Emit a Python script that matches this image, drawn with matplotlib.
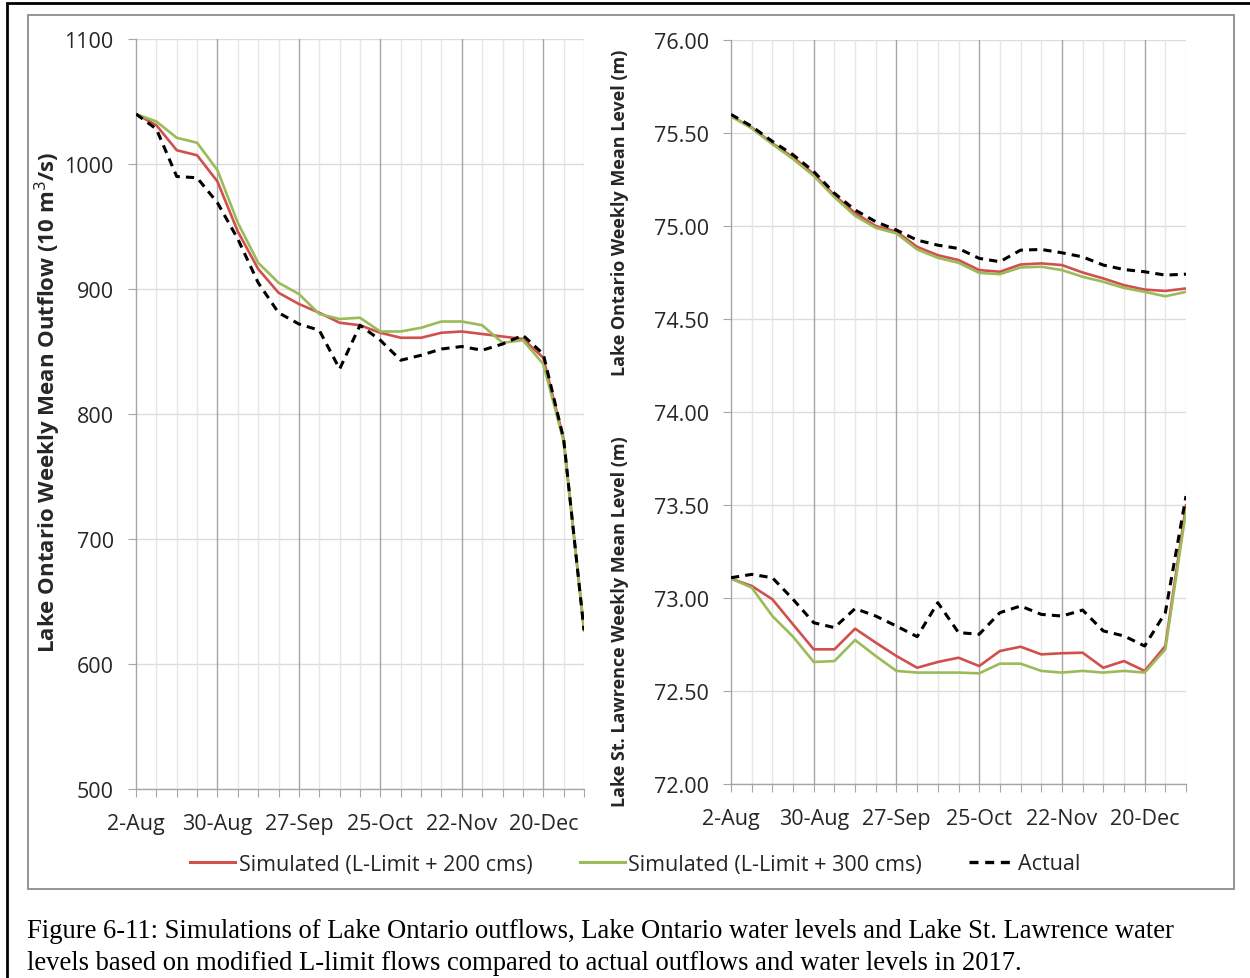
import matplotlib
matplotlib.use('Agg')
import matplotlib.pyplot as plt
import matplotlib as mpl
from matplotlib.lines import Line2D
from matplotlib.patches import Rectangle

# weekly dates, 2 Aug 2017 -> 3 Jan 2018
weeks = ['2-Aug', '9-Aug', '16-Aug', '23-Aug', '30-Aug', '6-Sep', '13-Sep', '20-Sep',
         '27-Sep', '4-Oct', '11-Oct', '18-Oct', '25-Oct', '1-Nov', '8-Nov', '15-Nov',
         '22-Nov', '29-Nov', '6-Dec', '13-Dec', '20-Dec', '27-Dec', '3-Jan']

# Lake Ontario outflow (10 m3/s)
flow_200 = [1040, 1031, 1011, 1007, 986, 946, 916, 897, 888, 881, 873, 871, 865,
            861, 861, 865, 866, 864, 862, 860, 845, 780, 627]
flow_300 = [1040, 1034, 1021, 1017, 995, 953, 921, 905, 896, 880, 876, 877, 866,
            866, 869, 874, 874, 871, 857, 859, 840, 778, 628]
flow_act = [1040, 1028, 990, 989, 969, 940, 905, 881, 872, 867, 836, 871, 859,
            843, 847, 852, 854, 851, 856, 863, 848, 780, 627]

# Lake Ontario level (m)
lo_200 = [75.59, 75.53, 75.445, 75.37, 75.28, 75.165, 75.07, 75.0, 74.97, 74.888,
          74.843, 74.817, 74.763, 74.754, 74.793, 74.799, 74.79, 74.75, 74.718,
          74.682, 74.658, 74.651, 74.664]
lo_300 = [75.59, 75.525, 75.44, 75.36, 75.27, 75.155, 75.055, 74.99, 74.96, 74.874,
          74.829, 74.802, 74.748, 74.741, 74.777, 74.781, 74.763, 74.727, 74.70,
          74.667, 74.646, 74.622, 74.646]
lo_act = [75.60, 75.536, 75.455, 75.383, 75.293, 75.176, 75.086, 75.023, 74.978,
          74.924, 74.897, 74.879, 74.826, 74.808, 74.87, 74.874, 74.856, 74.834,
          74.79, 74.766, 74.754, 74.736, 74.741]

# Lake St. Lawrence level (m)
lsl_200 = [73.104, 73.065, 72.993, 72.858, 72.724, 72.724, 72.835, 72.76, 72.688,
           72.625, 72.656, 72.679, 72.634, 72.715, 72.738, 72.697, 72.703, 72.706,
           72.625, 72.661, 72.608, 72.742, 73.498]
lsl_300 = [73.104, 73.056, 72.903, 72.792, 72.656, 72.661, 72.774, 72.688, 72.608,
           72.599, 72.599, 72.599, 72.595, 72.647, 72.647, 72.608, 72.599, 72.608,
           72.599, 72.608, 72.599, 72.724, 73.468]
lsl_act = [73.109, 73.127, 73.109, 72.993, 72.867, 72.841, 72.943, 72.903, 72.849,
           72.792, 72.975, 72.814, 72.805, 72.921, 72.957, 72.912, 72.903, 72.935,
           72.823, 72.796, 72.742, 72.921, 73.548]

RED = '#D0504E'
GREEN = '#9BBB59'
TXT = '#262626'

mpl.rc('font', family=['Open Sans', 'DejaVu Sans'], size=15.5)


def style_axis(ax, yticks, fmt):
    x = list(range(len(weeks)))
    ax.set_xlim(0, len(weeks) - 1)
    ax.set_xticks(x)
    ax.set_xticklabels([w if i % 4 == 0 else '' for i, w in enumerate(weeks)])
    ax.set_yticks(yticks)
    ax.set_yticklabels([fmt % v for v in yticks])
    ax.set_ylim(yticks[0], yticks[-1])
    for v in yticks:
        ax.axhline(v, color='#DCDCDC', lw=1.0, zorder=0)
    for i in x[1:]:
        c = '#A6A6A6' if i % 4 == 0 else '#E6E6E6'
        ax.axvline(i, color=c, lw=1.0, zorder=0)
    for s in ['top', 'right']:
        ax.spines[s].set_visible(False)
    for s in ['left', 'bottom']:
        ax.spines[s].set_color('#A6A6A6')
        ax.spines[s].set_linewidth(1.0)
    ax.tick_params(axis='both', length=6, color='#A6A6A6', labelcolor=TXT, labelsize=15.5)
    ax.tick_params(axis='y', pad=10)
    ax.tick_params(axis='x', pad=11)


def draw(ax, a, b, c):
    x = list(range(len(weeks)))
    ax.plot(x, a, color=RED, lw=1.9, zorder=3)
    ax.plot(x, b, color=GREEN, lw=1.9, zorder=3)
    ax.plot(x, c, color='black', lw=2.2, dashes=(2.7, 2.0), zorder=4)


fig = plt.figure(figsize=(12.5, 9.79), dpi=100)

# outer frame and chart frame
fig.patches.append(Rectangle((7 / 1250, -0.1), 1.2, 1.1 - 4 / 979, transform=fig.transFigure,
                             fill=False, edgecolor='black', lw=2.0))
fig.patches.append(Rectangle((28 / 1250, 1 - 890 / 979), (1234 - 28) / 1250, (890 - 16) / 979,
                             transform=fig.transFigure, fill=False, edgecolor='#8C8C8C', lw=1.3))

ax1 = fig.add_axes([136 / 1250, 1 - 790 / 979, (584 - 136) / 1250, (790 - 40) / 979])
style_axis(ax1, [500, 600, 700, 800, 900, 1000, 1100], '%d')
draw(ax1, flow_200, flow_300, flow_act)

ax2 = fig.add_axes([731 / 1250, 1 - 785 / 979, (1186 - 731) / 1250, (785 - 41) / 979])
style_axis(ax2, [72.0, 72.5, 73.0, 73.5, 74.0, 74.5, 75.0, 75.5, 76.0], '%.2f')
draw(ax2, lo_200, lo_300, lo_act)
draw(ax2, lsl_200, lsl_300, lsl_act)

lab = dict(rotation=90, ha='center', va='center', fontweight='bold', color=TXT)
fig.text(48 / 1250, 1 - 402 / 979, 'Lake Ontario Weekly Mean Outflow (10 m$^3$/s)',
         fontsize=16, **lab)
fig.text(620 / 1250, 1 - 213 / 979, 'Lake Ontario Weekly Mean Level (m)', fontsize=13, **lab)
fig.text(620 / 1250, 1 - 622 / 979, 'Lake St. Lawrence Weekly Mean Level (m)', fontsize=13, **lab)

handles = [Line2D([], [], color=RED, lw=2.2),
           Line2D([], [], color=GREEN, lw=2.2),
           Line2D([], [], color='black', lw=2.4, dashes=(2.7, 2.0))]
fig.legend(handles, ['Simulated (L-Limit + 200 cms)', 'Simulated (L-Limit + 300 cms)', 'Actual'],
           loc='center', bbox_to_anchor=(0.508, 1 - 865 / 979), ncol=3, frameon=False,
           fontsize=15.5, handlelength=2.1, handletextpad=0.15, columnspacing=2.2,
           labelcolor=TXT)

cap = dict(fontsize=19.2, family='Liberation Serif', color='black', va='baseline')
fig.text(27 / 1250, 1 - 938 / 979,
         'Figure 6-11: Simulations of Lake Ontario outflows, Lake Ontario water levels and Lake St. Lawrence water',
         **cap)
fig.text(27 / 1250, 1 - 970 / 979,
         'levels based on modified L-limit flows compared to actual outflows and water levels in 2017.',
         **cap)

fig.savefig('out.png', dpi=100)
